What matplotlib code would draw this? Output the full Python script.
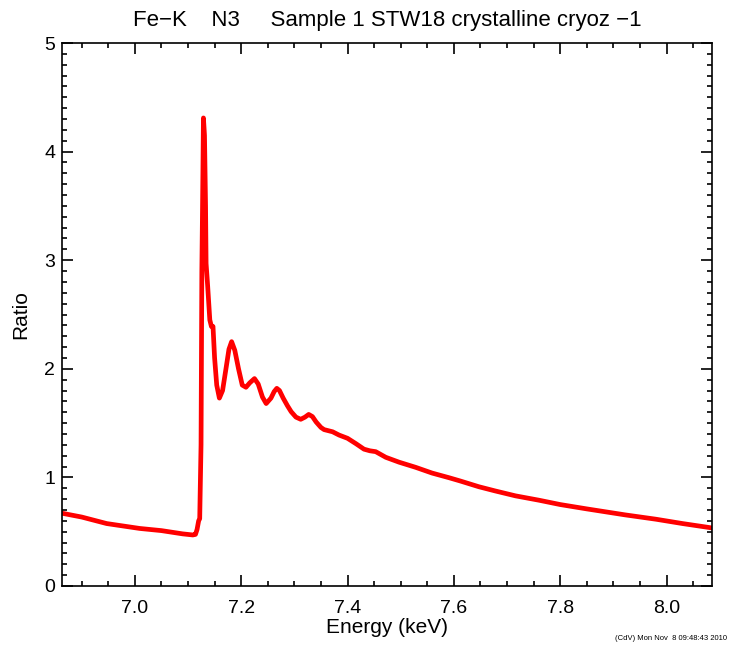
import numpy as np
import matplotlib
matplotlib.use("Agg")
import matplotlib.pyplot as plt
from matplotlib.ticker import MultipleLocator

plt.rcParams["font.family"] = ["Liberation Sans", "DejaVu Sans"]

# Fe-K XANES ratio
energy = [6.863, 6.90, 6.947, 7.009, 7.05, 7.09, 7.109, 7.114, 7.117, 7.120,
          7.122, 7.1245, 7.126, 7.128, 7.129, 7.131, 7.133, 7.134, 7.137,
          7.141, 7.144, 7.147, 7.150, 7.154, 7.159,
          7.165, 7.172, 7.177, 7.182, 7.188, 7.195, 7.202, 7.209, 7.216,
          7.225, 7.232, 7.240, 7.247, 7.256, 7.262, 7.267, 7.272, 7.279,
          7.287, 7.294, 7.303, 7.312, 7.320, 7.327, 7.334, 7.341, 7.350,
          7.356, 7.364, 7.372, 7.384, 7.400, 7.416, 7.431, 7.442, 7.453,
          7.472, 7.497, 7.528, 7.559, 7.591, 7.612, 7.647, 7.678, 7.716,
          7.76, 7.80, 7.85, 7.922, 7.98, 8.03, 8.085]
ratio = [0.67, 0.635, 0.575, 0.53, 0.51, 0.48, 0.47, 0.475, 0.52, 0.60,
         0.62, 1.30, 2.90, 3.80, 4.31, 4.15, 3.50, 2.97, 2.76,
         2.45, 2.39, 2.39, 2.10, 1.85, 1.73,
         1.80, 2.02, 2.18, 2.25, 2.17, 2.00, 1.85, 1.83, 1.87,
         1.91, 1.86, 1.74, 1.68, 1.73, 1.79, 1.82, 1.80, 1.73,
         1.66, 1.605, 1.555, 1.535, 1.555, 1.58, 1.56, 1.51, 1.46,
         1.44, 1.43, 1.42, 1.39, 1.36, 1.31, 1.26, 1.245, 1.237,
         1.185, 1.14, 1.093, 1.04, 0.997, 0.967, 0.914, 0.875, 0.83,
         0.79, 0.75, 0.71, 0.655, 0.615, 0.575, 0.535]

fig = plt.figure(figsize=(7.29, 6.49), dpi=100)
ax = fig.add_axes([62 / 729, 63 / 649, 650 / 729, 543 / 649])

ax.plot(energy, ratio, color="#ff0000", lw=3.4, solid_joinstyle="round")

ax.set_xlim(6.863, 8.0855)
ax.set_ylim(0, 5)
ax.xaxis.set_major_locator(MultipleLocator(0.2))
ax.xaxis.set_minor_locator(MultipleLocator(0.05))
ax.yaxis.set_major_locator(MultipleLocator(1))
ax.yaxis.set_minor_locator(MultipleLocator(0.1))
ax.xaxis.set_major_formatter(matplotlib.ticker.FormatStrFormatter("%.1f"))

for s in ax.spines.values():
    s.set_linewidth(1.2)
ax.tick_params(which="both", direction="in", top=True, right=True,
               width=1.2, labelsize=14, colors="black")
ax.tick_params(which="major", length=8)
ax.tick_params(which="minor", length=3.5)
ax.tick_params(axis="x", which="major", pad=10)
ax.tick_params(axis="y", which="major", pad=5)

ax.set_xlabel("Energy (keV)", fontsize=15, labelpad=1)
ax.set_ylabel("Ratio", fontsize=15, labelpad=10)
ax.set_title("Fe\u2212K    N3     Sample 1 STW18 crystalline cryoz \u22121",
             fontsize=16, pad=12)

fig.text(0.997, 0.011, "(CdV) Mon Nov  8 09:48:43 2010", fontsize=5.5,
         ha="right", va="bottom")

fig.savefig("out.png", dpi=100)
